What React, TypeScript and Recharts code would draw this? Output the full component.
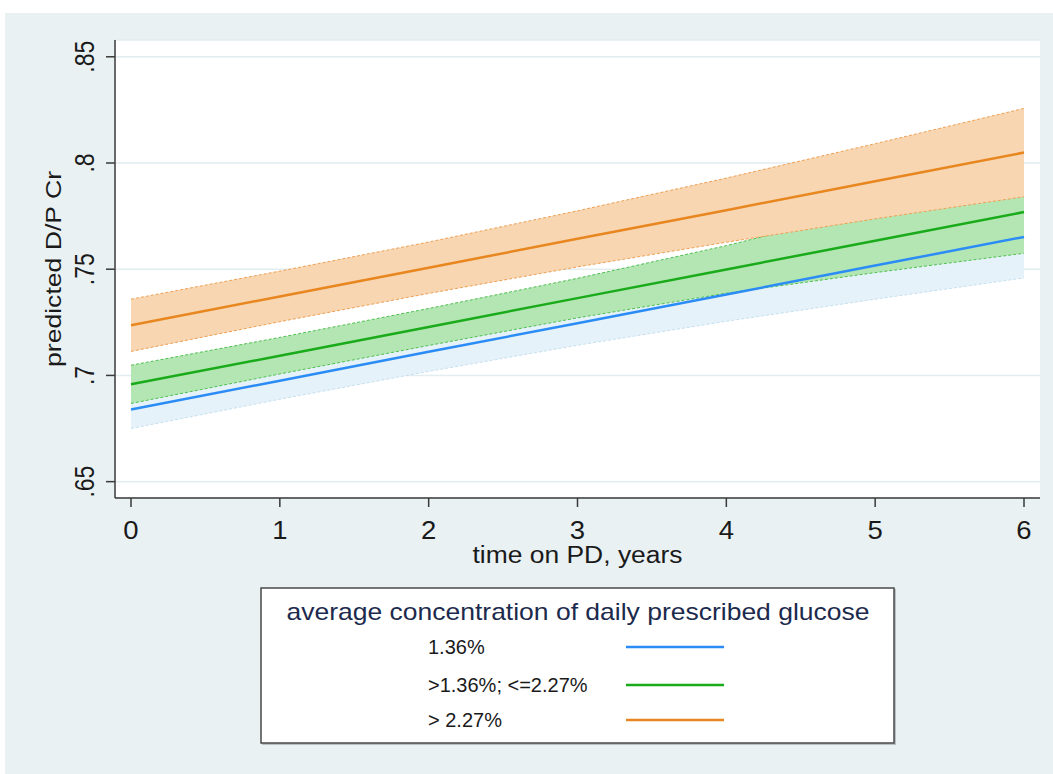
import React from 'react';
import { ComposedChart, Area, Line, XAxis, YAxis, CartesianGrid } from 'recharts';

const years = [0, 1, 2, 3, 4, 5, 6];

// 1.36%
const blueMid = [0.684, 0.6975, 0.7111, 0.7246, 0.7381, 0.7517, 0.7652];
const blueLow = [0.675, 0.6888, 0.7019, 0.7142, 0.7255, 0.7359, 0.7459];
const blueHigh = [0.693, 0.7062, 0.7203, 0.735, 0.7507, 0.7675, 0.7845];

// >1.36%; <=2.27%
const greenMid = [0.6958, 0.7093, 0.7228, 0.7364, 0.7499, 0.7634, 0.7769];
const greenLow = [0.6868, 0.7007, 0.7141, 0.7271, 0.7387, 0.7484, 0.7575];
const greenHigh = [0.7048, 0.7179, 0.7315, 0.7457, 0.7611, 0.7784, 0.7963];

// > 2.27%
const orangeMid = [0.7236, 0.7372, 0.7507, 0.7643, 0.7778, 0.7914, 0.8049];
const orangeLow = [0.7113, 0.7253, 0.7386, 0.7511, 0.7627, 0.7737, 0.7841];
const orangeHigh = [0.7359, 0.7491, 0.7628, 0.7775, 0.7929, 0.8091, 0.8257];

const yTicks = [0.65, 0.7, 0.75, 0.8, 0.85];
const yTickLabels = ['.65', '.7', '.75', '.8', '.85'];
const xTicks = [0, 1, 2, 3, 4, 5, 6];

const legendTitle = 'average concentration of daily prescribed glucose';
const legendLabels = ['1.36%', '>1.36%; <=2.27%', '> 2.27%'];
const seriesColors = ['#2b8cf5', '#1aab1a', '#e8861f'];

const xTitle = 'time on PD, years';
const yTitle = 'predicted D/P Cr';

const data = years.map((t, i) => ({
  t,
  blueMid: blueMid[i],
  blueBand: [blueLow[i], blueHigh[i]],
  greenMid: greenMid[i],
  greenBand: [greenLow[i], greenHigh[i]],
  orangeMid: orangeMid[i],
  orangeBand: [orangeLow[i], orangeHigh[i]],
}));

const FONT = '"Liberation Sans", Arial, sans-serif';

const XTick = (props: any) => {
  const { x, y, payload } = props;
  return (
    <text
      transform={`translate(${x}, ${y + 30}) scale(1.1, 1)`}
      x={0}
      y={0}
      textAnchor="middle"
      fontFamily={FONT}
      fontSize={25}
      fill="#1a1a1a"
    >
      {String(payload.value)}
    </text>
  );
};

const YTick = (props: any) => {
  const { x, y, payload } = props;
  const idx = yTicks.findIndex((v) => Math.abs(v - payload.value) < 1e-9);
  const label = idx >= 0 ? yTickLabels[idx] : String(payload.value);
  const bx = x - 10;
  return (
    <text
      transform={`translate(${bx}, ${y}) scale(1.2, 1) rotate(-90)`}
      x={0}
      y={0}
      textAnchor="middle"
      fontFamily={FONT}
      fontSize={23}
      fill="#1a1a1a"
    >
      {label}
    </text>
  );
};

const XTitle = (props: any) => {
  const vb = props.viewBox || {};
  const cx = vb.x + vb.width / 2;
  const by = vb.y + 65;
  return (
    <text x={cx} y={by} textAnchor="middle" fontFamily={FONT} fontSize={23} fill="#1a1a1a" textLength={210} lengthAdjust="spacingAndGlyphs">
      {xTitle}
    </text>
  );
};

const YTitle = (props: any) => {
  const vb = props.viewBox || {};
  const cy = vb.y + vb.height / 2;
  const bx = 61;
  return (
    <text
      x={bx}
      y={cy}
      transform={`rotate(-90, ${bx}, ${cy})`}
      textAnchor="middle"
      fontFamily={FONT}
      fontSize={22}
      fill="#1a1a1a"
      textLength={196}
      lengthAdjust="spacingAndGlyphs"
    >
      {yTitle}
    </text>
  );
};

const LegendBox = () => (
  <svg
    width={640}
    height={162}
    style={{ position: 'absolute', left: 259, top: 586 }}
  >
    <rect x={3} y={3} width={634} height={156} fill="#b9bfc2" />
    <rect x={2} y={2} width={633} height={155} fill="#ffffff" stroke="#4a4a4a" strokeWidth={1.5} />
    <text x={319} y={34} textAnchor="middle" fontFamily={FONT} fontSize={24} fill="#1c2a4d" textLength={583} lengthAdjust="spacingAndGlyphs">
      {legendTitle}
    </text>
    {legendLabels.map((lab, i) => {
      const cy = [61, 99, 134][i];
      return (
        <g key={lab}>
          <text x={169} y={cy + 7} fontFamily={FONT} fontSize={20} fill="#1a1a1a">
            {lab}
          </text>
          <line x1={367} x2={465} y1={cy} y2={cy} stroke={seriesColors[i]} strokeWidth={2.5} />
        </g>
      );
    })}
  </svg>
);

export default function App() {
  return (
    <div style={{ position: 'absolute', left: 0, top: 0, width: 1053, height: 774, background: '#ffffff', overflow: 'hidden' }}>
      <div style={{ position: 'absolute', left: 5, top: 13, width: 1048, height: 761, background: '#e9f1f3' }} />
      <div style={{ position: 'absolute', left: 0, top: 0 }}>
        <ComposedChart width={1053} height={580} data={data} margin={{ top: 40, right: 13, left: 45, bottom: 22 }}>
          <CartesianGrid vertical={false} fill="#ffffff" stroke="#e2edf0" strokeWidth={1.5} />
          <XAxis
            type="number"
            dataKey="t"
            domain={[-0.1075, 6.1075]}
            ticks={xTicks}
            allowDataOverflow
            interval={0}
            height={60}
            tickSize={9}
            tick={<XTick />}
            axisLine={{ stroke: '#3a3a3a', strokeWidth: 1.5 }}
            tickLine={{ stroke: '#3a3a3a', strokeWidth: 1.5 }}
            label={<XTitle />}
          />
          <YAxis
            type="number"
            domain={[0.6423, 0.8579]}
            ticks={yTicks}
            allowDataOverflow
            interval={0}
            width={70}
            tickSize={9}
            tick={<YTick />}
            axisLine={{ stroke: '#3a3a3a', strokeWidth: 1.5 }}
            tickLine={{ stroke: '#3a3a3a', strokeWidth: 1.5 }}
            label={<YTitle />}
          />
          <Area type="linear" dataKey="blueBand" fill="#e6f2f9" fillOpacity={1} stroke="#c6e0f1" strokeWidth={1} strokeDasharray="3 2" isAnimationActive={false} dot={false} activeDot={false} />
          <Area type="linear" dataKey="greenBand" fill="#b4e6b4" fillOpacity={1} stroke="#4fbf4f" strokeWidth={1} strokeDasharray="3 2" isAnimationActive={false} dot={false} activeDot={false} />
          <Area type="linear" dataKey="orangeBand" fill="#f7d6b1" fillOpacity={1} stroke="#eda055" strokeWidth={1} strokeDasharray="3 2" isAnimationActive={false} dot={false} activeDot={false} />
          <Line type="linear" dataKey="blueMid" stroke={seriesColors[0]} strokeWidth={2.5} dot={false} activeDot={false} isAnimationActive={false} />
          <Line type="linear" dataKey="greenMid" stroke={seriesColors[1]} strokeWidth={2.5} dot={false} activeDot={false} isAnimationActive={false} />
          <Line type="linear" dataKey="orangeMid" stroke={seriesColors[2]} strokeWidth={2.5} dot={false} activeDot={false} isAnimationActive={false} />
        </ComposedChart>
      </div>
      <LegendBox />
    </div>
  );
}
